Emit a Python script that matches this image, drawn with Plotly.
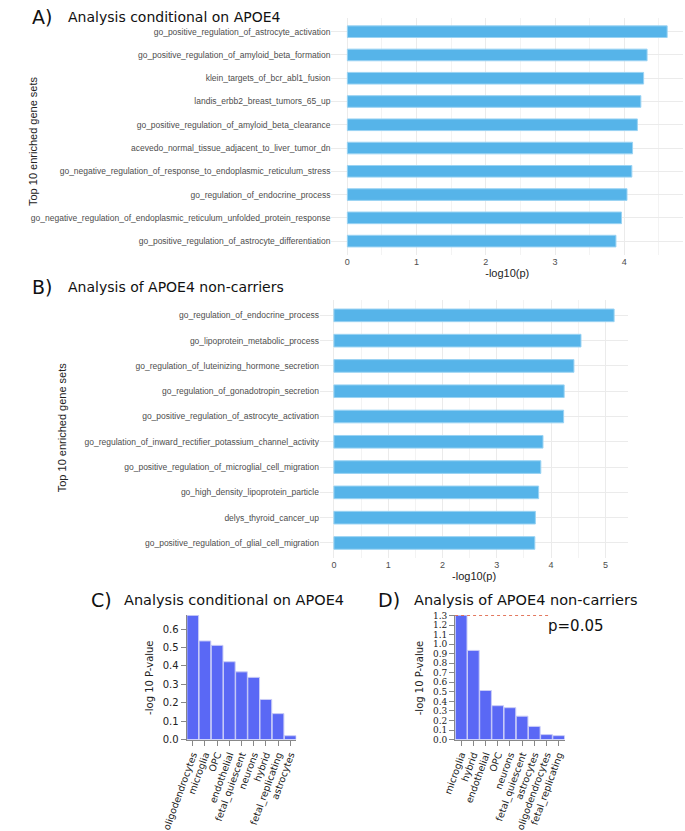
import math
import plotly.graph_objects as go

# panel A: conditional on APOE4
a_sets = [
    "go_positive_regulation_of_astrocyte_activation",
    "go_positive_regulation_of_amyloid_beta_formation",
    "klein_targets_of_bcr_abl1_fusion",
    "landis_erbb2_breast_tumors_65_up",
    "go_positive_regulation_of_amyloid_beta_clearance",
    "acevedo_normal_tissue_adjacent_to_liver_tumor_dn",
    "go_negative_regulation_of_response_to_endoplasmic_reticulum_stress",
    "go_regulation_of_endocrine_process",
    "go_negative_regulation_of_endoplasmic_reticulum_unfolded_protein_response",
    "go_positive_regulation_of_astrocyte_differentiation",
]
a_vals = [4.62, 4.33, 4.28, 4.24, 4.19, 4.12, 4.11, 4.04, 3.96, 3.88]

# panel B: APOE4 non-carriers
b_sets = [
    "go_regulation_of_endocrine_process",
    "go_lipoprotein_metabolic_process",
    "go_regulation_of_luteinizing_hormone_secretion",
    "go_regulation_of_gonadotropin_secretion",
    "go_positive_regulation_of_astrocyte_activation",
    "go_regulation_of_inward_rectifier_potassium_channel_activity",
    "go_positive_regulation_of_microglial_cell_migration",
    "go_high_density_lipoprotein_particle",
    "delys_thyroid_cancer_up",
    "go_positive_regulation_of_glial_cell_migration",
]
b_vals = [5.16, 4.55, 4.42, 4.24, 4.23, 3.85, 3.81, 3.77, 3.71, 3.70]

# panel C: cell types, conditional on APOE4
c_cells = ["oligodendrocytes", "microglia", "OPC", "endothelial", "fetal_quiescent",
           "neurons", "hybrid", "fetal_replicating", "astrocytes"]
c_vals = [0.675, 0.536, 0.512, 0.423, 0.368, 0.338, 0.218, 0.141, 0.021]

# panel D: cell types, non-carriers
d_cells = ["microglia", "hybrid", "endothelial", "OPC", "neurons", "fetal_quiescent",
           "astrocytes", "oligodendrocytes", "fetal_replicating"]
d_vals = [1.303, 0.934, 0.514, 0.355, 0.334, 0.245, 0.138, 0.052, 0.041]

P_CUTOFF = 0.05
p_line = -math.log10(P_CUTOFF)

W, H = 685, 831


def px(x):
    return x / W


def py(y):
    return 1 - y / H


GRID = "#EBEBEB"
LBL = "#4D4D4D"
SANS = "DejaVu Sans"
GG = "Liberation Sans"

fig = go.Figure()
fig.add_trace(go.Bar(x=a_vals, y=a_sets, orientation="h", width=0.5,
                     marker=dict(color="#56B4E9", line=dict(color="#9AD3F3", width=1)),
                     xaxis="x", yaxis="y"))
fig.add_trace(go.Bar(x=b_vals, y=b_sets, orientation="h", width=0.5,
                     marker=dict(color="#56B4E9", line=dict(color="#9AD3F3", width=1)),
                     xaxis="x2", yaxis="y2"))
fig.add_trace(go.Bar(x=c_cells, y=c_vals,
                     marker=dict(color="#5A68F5", line=dict(color="#C9CCF7", width=1)),
                     xaxis="x3", yaxis="y3"))
fig.add_trace(go.Bar(x=d_cells, y=d_vals,
                     marker=dict(color="#5A68F5", line=dict(color="#C9CCF7", width=1)),
                     xaxis="x4", yaxis="y4"))


def gg_x(domain, rng, anchor):
    return dict(domain=domain, anchor=anchor, range=rng, dtick=1, tick0=0,
                showgrid=True, gridcolor=GRID, gridwidth=1, zeroline=False,
                showline=False, ticks="", tickfont=dict(family=GG, size=9, color=LBL),
                minor=dict(dtick=0.5, showgrid=True, gridcolor="#F3F3F3", gridwidth=1),
                title=dict(text="-log10(p)", font=dict(family=GG, size=11, color="#222"),
                           standoff=2))


def gg_y(domain, n, anchor):
    return dict(domain=domain, anchor=anchor, type="category", range=[n - 0.4, -0.6],
                showgrid=True, gridcolor=GRID, zeroline=False, showline=False, ticks="",
                tickfont=dict(family=GG, size=8.5, color=LBL))


def cell_x(domain, anchor):
    return dict(domain=domain, anchor=anchor, type="category", showline=True,
                linecolor="#888", ticks="outside", ticklen=5, tickcolor="#888",
                tickangle=-70, tickfont=dict(family=SANS, size=9.5, color="#222"),
                showgrid=False, zeroline=False)


fig.update_layout(
    width=W, height=H, margin=dict(l=0, r=0, t=0, b=0),
    paper_bgcolor="white", plot_bgcolor="white", showlegend=False,
    xaxis=gg_x([px(317.5), px(683)], [-0.23, 4.85], "y"),
    yaxis=gg_y([py(256), py(14)], len(a_sets), "x"),
    xaxis2=gg_x([px(305.5), px(626)], [-0.258, 5.42], "y2"),
    yaxis2=gg_y([py(565), py(302)], len(b_sets), "x2"),
    xaxis3=cell_x([px(167), px(281)], "y3"),
    yaxis3=dict(domain=[py(750), py(623)], anchor="x3", range=[0, 0.677], dtick=0.1,
                tickformat=".1f", showline=True, linecolor="#888", ticks="outside",
                ticklen=5, tickcolor="#888", showgrid=False, zeroline=False,
                tickfont=dict(family=SANS, size=10, color="#222")),
    xaxis4=cell_x([px(446), px(560)], "y4"),
    yaxis4=dict(domain=[py(750), py(623)], anchor="x4", range=[0, 1.305], dtick=0.1,
                tickformat=".1f", showline=True, linecolor="#888", ticks="outside",
                ticklen=5, tickcolor="#888", showgrid=False, zeroline=False,
                tickfont=dict(family="DejaVu Serif", size=9, color="#222")),
    bargap=0.04,
)

fig.add_shape(type="line", xref="x4 domain", yref="y4", x0=0, x1=0.85, y0=p_line, y1=p_line,
              line=dict(color="#E0674B", width=1, dash="dot"))

ann = [
    dict(x=px(4), y=py(13), text="A)", size=19),
    dict(x=px(42), y=py(13), text="Analysis conditional on APOE4", size=14),
    dict(x=px(4), y=py(289), text="B)", size=19),
    dict(x=px(42), y=py(289), text="Analysis of APOE4 non-carriers", size=14),
    dict(x=px(66), y=py(608), text="C)", size=19),
    dict(x=px(100), y=py(608), text="Analysis conditional on APOE4", size=14.5),
    dict(x=px(364), y=py(608), text="D)", size=19),
    dict(x=px(401), y=py(608), text="Analysis of APOE4 non-carriers", size=14.5),
    dict(x=px(541), y=py(634), text="p=0.05", size=15),
]
for a in ann:
    fig.add_annotation(x=a["x"], y=a["y"], xref="paper", yref="paper", text=a["text"],
                       showarrow=False, xanchor="left", yanchor="middle",
                       font=dict(family=SANS, size=a["size"], color="#111"))

ytitles = [
    (8, 140, "Top 10 enriched gene sets", GG, 11),
    (37, 432, "Top 10 enriched gene sets", GG, 11),
    (129, 687, "-log 10 P-value", SANS, 10),
    (409, 687, "-log 10 P-value", SANS, 10),
]
for x, y, t, fam, s in ytitles:
    fig.add_annotation(x=px(x), y=py(y), xref="paper", yref="paper", text=t, textangle=-90,
                       showarrow=False, xanchor="center", yanchor="middle",
                       font=dict(family=fam, size=s, color="#222"))

# the page body has an 8px default margin; drop it so the figure sits at the corner
fig.write_html("out.html", config={"displayModeBar": False},
               post_script="document.body.style.margin='0';")
